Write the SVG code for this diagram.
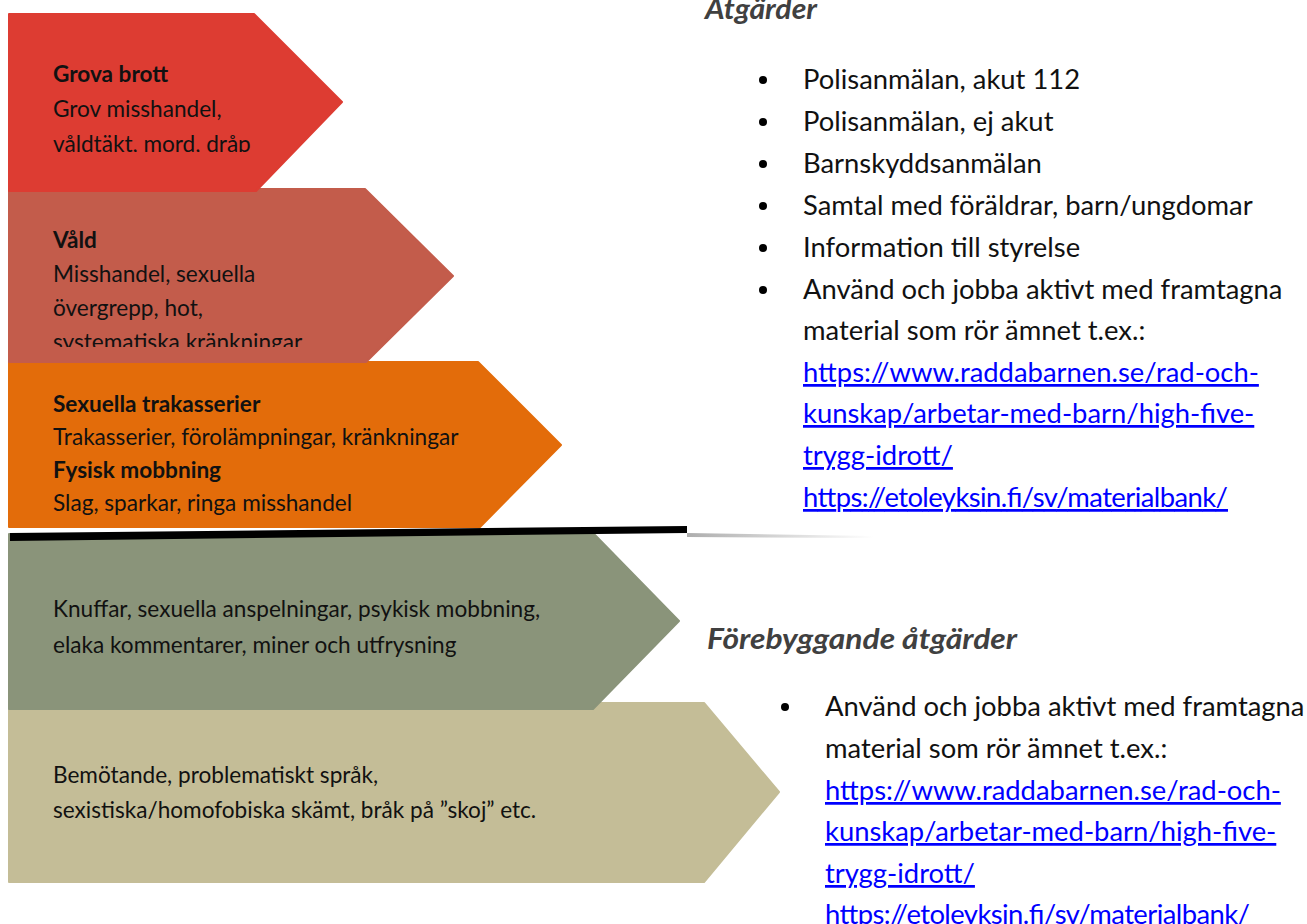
<svg xmlns="http://www.w3.org/2000/svg" width="1307" height="924" viewBox="0 0 1307 924">
  <style>
    .t { font-family: Lato, "Open Sans", sans-serif; font-size: 22.6px; fill: #111; }
    .b { font-weight: bold; }
    .r { font-family: Lato, "Open Sans", sans-serif; font-size: 27.4px; fill: #111; }
    .h { font-family: Lato, "Open Sans", sans-serif; font-size: 28px; font-weight: bold; font-style: italic; fill: #404040; }
    .lnk { fill: #0000FF; text-decoration: underline; }
    .arrow { stroke-width: 2; stroke-linejoin: round; }
  </style>
  <defs>
    <clipPath id="clipRed"><rect x="0" y="0" width="400" height="152"/></clipPath>
    <clipPath id="clipVald"><rect x="0" y="189" width="460" height="158"/></clipPath>
    <linearGradient id="shadowGrad" x1="0" y1="0" x2="1" y2="0">
      <stop offset="0" stop-color="#999" stop-opacity="0.8"/>
      <stop offset="1" stop-color="#999" stop-opacity="0"/>
    </linearGradient>
  </defs>
  <rect width="1307" height="924" fill="#fff"/>

  <g id="node-tan">
    <polygon class="arrow" points="9,703 704,703 779,792 704,882 9,882" fill="#C4BD97" stroke="#C4BD97"/>
    <text class="t" x="53" y="783">Bemötande, problematiskt språk,</text>
    <text class="t" x="53" y="818">sexistiska/homofobiska skämt, bråk på ”skoj” etc.</text>
  </g>

  <g id="node-grey">
    <polygon class="arrow" points="9,534 594,534 679,621 593,709 9,709" fill="#8A947A" stroke="#8A947A"/>
    <text class="t" x="53" y="617">Knuffar, sexuella anspelningar, psykisk mobbning,</text>
    <text class="t" x="53" y="653">elaka kommentarer, miner och utfrysning</text>
  </g>

  <g id="node-orange">
    <polygon class="arrow" points="9,362 478,362 561,445 480,527 9,527" fill="#E36C0A" stroke="#E36C0A"/>
    <text class="t b" x="53" y="412">Sexuella trakasserier</text>
    <text class="t" x="53" y="445">Trakasserier, förolämpningar, kränkningar</text>
    <text class="t b" x="53" y="478">Fysisk mobbning</text>
    <text class="t" x="53" y="511">Slag, sparkar, ringa misshandel</text>
  </g>

  <g id="divider">
    <polygon points="687,533 873,536 873,538 687,537" fill="url(#shadowGrad)"/>
    <polygon points="10,533 687,526 687,533 10,541" fill="#000"/>
  </g>

  <g id="node-vald">
    <polygon class="arrow" points="9,189 365,189 453,276 366,362 9,362" fill="#C35C4B" stroke="#C35C4B"/>
    <g clip-path="url(#clipVald)">
      <text class="t b" x="53" y="248">Våld</text>
      <text class="t" x="53" y="282">Misshandel, sexuella</text>
      <text class="t" x="53" y="316">övergrepp, hot,</text>
      <text class="t" x="53" y="350">systematiska kränkningar</text>
    </g>
  </g>

  <g id="node-red">
    <polygon class="arrow" points="9,14 254,14 342,102 256,191 9,191" fill="#DD3C32" stroke="#DD3C32"/>
    <g clip-path="url(#clipRed)">
      <text class="t b" x="53" y="82">Grova brott</text>
      <text class="t" x="53" y="117">Grov misshandel,</text>
      <text class="t" x="53" y="152">våldtäkt, mord, dråp</text>
    </g>
  </g>

  <g id="atgarder">
    <text class="h" x="705" y="19" textLength="112" lengthAdjust="spacingAndGlyphs">Åtgärder</text>
    <g fill="#000">
      <circle cx="763" cy="80" r="4"/>
      <circle cx="763" cy="122" r="4"/>
      <circle cx="763" cy="164" r="4"/>
      <circle cx="763" cy="206" r="4"/>
      <circle cx="763" cy="248" r="4"/>
      <circle cx="763" cy="290" r="4"/>
    </g>
    <text class="r" x="803" y="89">Polisanmälan, akut 112</text>
    <text class="r" x="803" y="131">Polisanmälan, ej akut</text>
    <text class="r" x="803" y="173">Barnskyddsanmälan</text>
    <text class="r" x="803" y="215">Samtal med föräldrar, barn/ungdomar</text>
    <text class="r" x="803" y="257">Information till styrelse</text>
    <text class="r" x="803" y="299">Använd och jobba aktivt med framtagna</text>
    <text class="r" x="803" y="340">material som rör ämnet t.ex.:</text>
    <text class="r lnk" x="803" y="382">https://www.raddabarnen.se/rad-och-</text>
    <text class="r lnk" x="803" y="423">kunskap/arbetar-med-barn/high-five-</text>
    <text class="r lnk" x="803" y="465">trygg-idrott/</text>
    <text class="r lnk" x="803" y="507" textLength="425" lengthAdjust="spacing">https://etoleyksin.fi/sv/materialbank/</text>
  </g>

  <g id="forebyggande">
    <text class="h" x="707" y="649" textLength="310" lengthAdjust="spacingAndGlyphs">Förebyggande åtgärder</text>
    <circle cx="785" cy="707" r="4" fill="#000"/>
    <text class="r" x="825" y="716">Använd och jobba aktivt med framtagna</text>
    <text class="r" x="825" y="758">material som rör ämnet t.ex.:</text>
    <text class="r lnk" x="825" y="800">https://www.raddabarnen.se/rad-och-</text>
    <text class="r lnk" x="825" y="841">kunskap/arbetar-med-barn/high-five-</text>
    <text class="r lnk" x="825" y="883">trygg-idrott/</text>
    <text class="r lnk" x="825" y="924" textLength="425" lengthAdjust="spacing">https://etoleyksin.fi/sv/materialbank/</text>
  </g>
</svg>
